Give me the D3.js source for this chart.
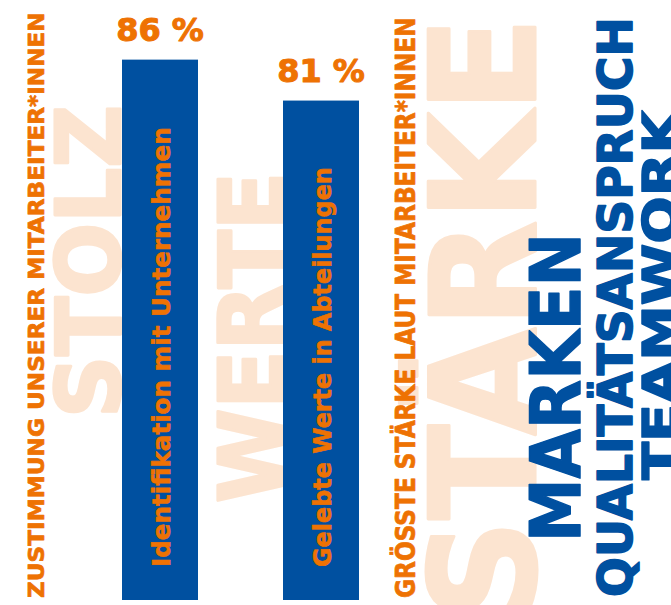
<!DOCTYPE html>
<html>
<head>
<meta charset="utf-8">
<script src="https://cdn.jsdelivr.net/npm/d3@7"></script>
<style>
  body { margin: 0; background: #fff; }
  svg { display: block; }
  text { font-family: 'DejaVu Sans', sans-serif; font-weight: bold; stroke-linejoin: round; }
</style>
</head>
<body>
<svg></svg>
<script>
const WIDTH = 671;
const HEIGHT = 605;

const ORANGE = '#ee7203';
const BLUE = '#0050a0';
const PALE = '#fce4d0';

// Bar data.
const categories = ['Identifikation mit Unternehmen', 'Gelebte Werte in Abteilungen'];
const values = [86, 81];
const valueLabels = ['86 %', '81 %'];

// Big pale words behind the chart.
const bgWords = ['STOLZ', 'WERTE', 'STÄRKE'];

// Side captions.
const captions = ['ZUSTIMMUNG UNSERER MITARBEITER*INNEN', 'GRÖSSTE STÄRKE LAUT MITARBEITER*INNEN'];

// Blue keyword list on the right.
const keywords = ['MARKEN', 'QUALITÄTSANSPRUCH', 'TEAMWORK'];

const svg = d3
  .select('svg')
  .attr('width', WIDTH)
  .attr('height', HEIGHT)
  .attr('viewBox', `0 0 ${WIDTH} ${HEIGHT}`);

const x = d3
  .scaleBand()
  .domain(categories)
  .range([122, 359])
  .paddingInner(0.528)
  .paddingOuter(0);

// The bars do not start at zero, the baseline sits at about 20 %.
const y = d3.scaleLinear().domain([20, 100]).range([600, -55]);

// Write text turned 90° to the left: baseline at bx, starting at by.
// The glyphs are stretched along the line so the text gets the given length
// (the original font is wider and heavier than DejaVu, hence the stroke too).
function vtext(g, str, bx, by, size, length, color, weight) {
  const t = g
    .append('text')
    .attr('font-size', size)
    .attr('fill', color)
    .attr('stroke', color)
    .attr('stroke-width', weight || 0)
    .text(str);
  let s = 1;
  if (length) s = length / t.node().getComputedTextLength();
  t.attr('transform', `translate(${bx},${by}) rotate(-90) scale(${s},1)`);
  return t;
}

// Background words.
const bg = svg.append('g');
const bgSpec = [
  {bx: 120, by: 418, size: 89, len: 313},
  {bx: 283, by: 503, size: 89, len: 331},
  {bx: 535, by: 620, size: 147, len: 603}
];
bgWords.forEach((w, i) => {
  const s = bgSpec[i];
  vtext(bg, w, s.bx, s.by, s.size, s.len, PALE, 3);
});

// Bars.
svg
  .append('g')
  .selectAll('rect')
  .data(values)
  .join('rect')
  .attr('x', (d, i) => x(categories[i]))
  .attr('y', d => y(d))
  .attr('width', x.bandwidth())
  .attr('height', d => y(20) - y(d))
  .attr('fill', BLUE);

// Values above the bars.
svg
  .append('g')
  .selectAll('text')
  .data(values)
  .join('text')
  .attr('x', (d, i) => x(categories[i]) + x.bandwidth() / 2)
  .attr('y', d => y(d) - 19)
  .attr('text-anchor', 'middle')
  .attr('font-size', 32)
  .attr('fill', ORANGE)
  .attr('stroke', ORANGE)
  .attr('stroke-width', 1)
  .text((d, i) => valueLabels[i]);

// Category names inside the bars.
const labels = svg.append('g');
const labelLen = [440, 400];
categories.forEach((c, i) => {
  const bx = x(c) + x.bandwidth() / 2 + 10;
  vtext(labels, c, bx, 567, 25, labelLen[i], ORANGE, 0.6);
});

// Side captions.
const cap = svg.append('g');
vtext(cap, captions[0], 44, 598, 22, 586, ORANGE, 0.7);
vtext(cap, captions[1], 415, 598, 26, 581, ORANGE, 0.7);

// Keywords.
const kw = svg.append('g');
const kwSpec = [
  {bx: 580, by: 542, size: 69, len: 309},
  {bx: 632, by: 597, size: 48, len: 580},
  {bx: 677, by: 480, size: 48, len: 370}
];
keywords.forEach((k, i) => {
  const s = kwSpec[i];
  vtext(kw, k, s.bx, s.by, s.size, s.len, BLUE, 1.5);
});
</script>
</body>
</html>
